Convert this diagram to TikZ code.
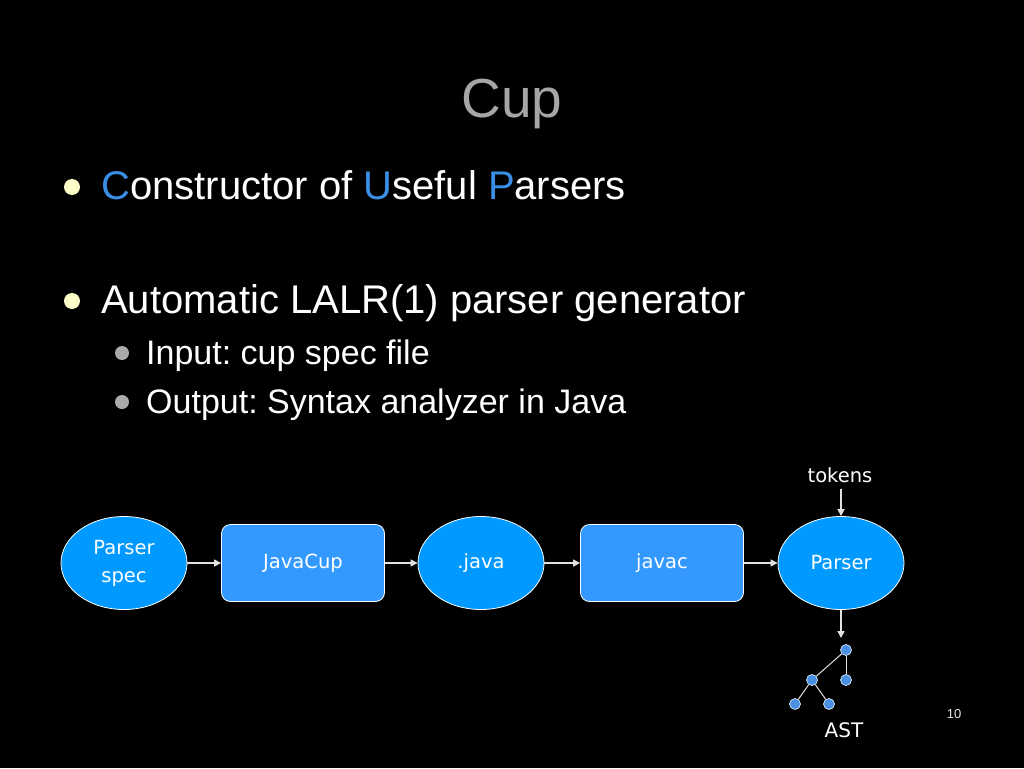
\documentclass[tikz,border=0pt]{standalone}
\usepackage{fontspec}
\setmainfont{Liberation Sans}
\newfontfamily\dv{DejaVu Sans}
\usetikzlibrary{shapes.geometric,arrows.meta}
\frenchspacing
\definecolor{titlegray}{RGB}{166,166,166}
\definecolor{accent}{RGB}{58,142,230}
\definecolor{ellblue}{RGB}{0,153,255}
\definecolor{boxblue}{RGB}{51,153,255}
\definecolor{bulyel}{RGB}{255,255,204}
\definecolor{bulgray}{RGB}{170,170,170}
\definecolor{arrgray}{RGB}{225,225,225}
\definecolor{dotblue}{RGB}{74,144,226}
\tikzset{
  ellnode/.style={ellipse, fill=ellblue, draw=white, line width=0.8pt, minimum width=126pt, minimum height=93pt, inner sep=0pt, text=white, font=\dv\fontsize{19.5}{28}\selectfont, align=center},
  boxnode/.style={rectangle, rounded corners=9pt, fill=boxblue, draw=white, line width=0.8pt, minimum width=163pt, minimum height=77pt, inner sep=0pt, text=white, font=\dv\fontsize{19.5}{28}\selectfont},
  flow/.style={draw=arrgray, line width=1.4pt, -{Triangle[length=7pt,width=7pt]}},
  treedot/.style={circle, fill=dotblue, draw=white!80!dotblue, line width=0.7pt, minimum size=11pt, inner sep=0pt},
  treeline/.style={draw=arrgray, line width=1pt},
  mainbul/.style={circle, fill=bulyel, minimum size=16pt, inner sep=0pt},
  subbul/.style={circle, fill=bulgray, minimum size=14pt, inner sep=0pt},
  maintext/.style={anchor=base west, inner sep=0pt, text=white, font=\fontsize{40}{48}\selectfont},
  subtext/.style={anchor=base west, inner sep=0pt, text=white, font=\fontsize{34}{40}\selectfont}
}
\begin{document}
\begin{tikzpicture}[x=1pt,y=-1pt]
\fill[black] (0,0) rectangle (1024,768);
\useasboundingbox (0,0) rectangle (1024,768);
% title
\node[anchor=base, inner sep=0pt, text=titlegray, font=\fontsize{55}{66}\selectfont] (title) at (512,117) {Cup};
% bullets
\node[mainbul] (b1) at (72,187) {};
\node[maintext] (t1) at (101,199) {\textcolor{accent}{C}onstructor of \textcolor{accent}{U}seful \textcolor{accent}{P}arsers};
\node[mainbul] (b2) at (72,301) {};
\node[maintext] (t2) at (101,313) {Automatic LALR(1) parser generator};
\node[subbul] (s1) at (122,353) {};
\node[subtext] (t3) at (146,364) {Input: cup spec file};
\node[subbul] (s2) at (122,402) {};
\node[subtext] (t4) at (146,413) {Output: Syntax analyzer in Java};
% diagram
\node[ellnode] (ps) at (124,563) {Parser\\spec};
\node[boxnode] (jc) at (303,563) {JavaCup};
\node[ellnode] (jv) at (481,563) {.java};
\node[boxnode] (jcc) at (662,563) {javac};
\node[ellnode] (pr) at (841,563) {Parser};
\node[inner sep=0pt, text=white, font=\dv\fontsize{19.5}{23}\selectfont] (tok) at (840,475) {tokens};
\coordinate (tokend) at (841,489);
\draw[flow] (ps) -- (jc);
\draw[flow] (jc) -- (jv);
\draw[flow] (jv) -- (jcc);
\draw[flow] (jcc) -- (pr);
\draw[flow] (tokend) -- (pr.north);
\coordinate (treetop) at (841,638);
\draw[flow] (pr.south) -- (treetop);
% tree
\node[treedot] (r) at (846,650) {};
\node[treedot] (a) at (812,680) {};
\node[treedot] (b) at (846,680) {};
\node[treedot] (c) at (795,704) {};
\node[treedot] (d) at (829,704) {};
\draw[treeline] (r) -- (a);
\draw[treeline] (r) -- (b);
\draw[treeline] (a) -- (c);
\draw[treeline] (a) -- (d);
\node[inner sep=0pt, text=white, font=\dv\fontsize{20}{24}\selectfont] (ast) at (844,730) {AST};
\node[inner sep=0pt, text=white!90!black, font=\fontsize{13}{15}\selectfont] (pg) at (954,714) {10};
\end{tikzpicture}
\end{document}
